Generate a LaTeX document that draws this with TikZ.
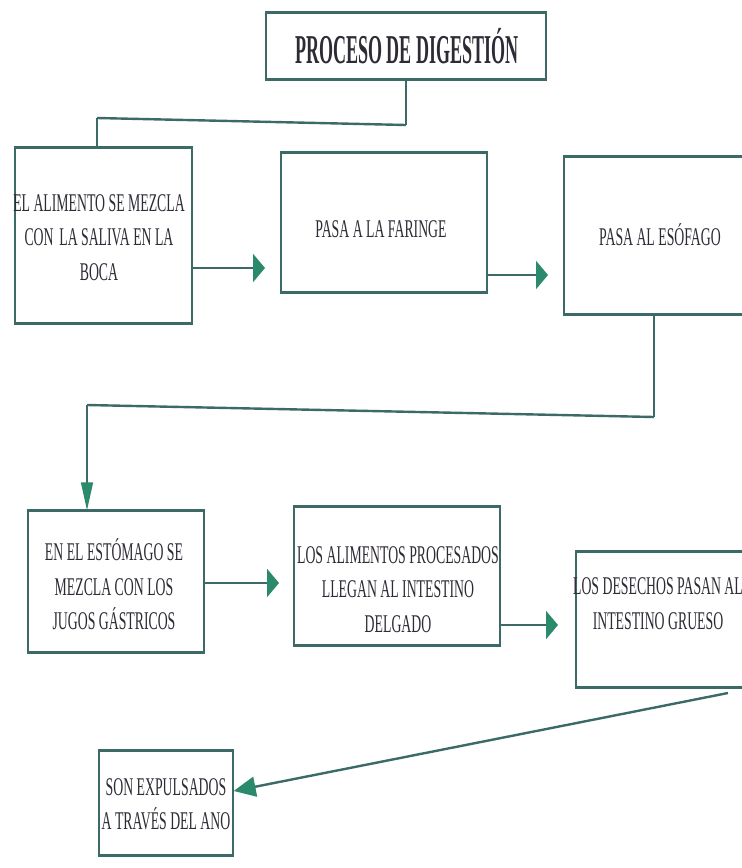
\documentclass[tikz,border=0pt]{standalone}
\usepackage{fontspec}
\setmainfont{Liberation Serif}
\usetikzlibrary{arrows.meta}
\definecolor{boxline}{HTML}{3C6B67}
\definecolor{arrowgreen}{HTML}{2A8A6B}
\definecolor{txtcol}{HTML}{2F2B36}
\newcommand{\bodytext}[1]{\scalebox{0.54}[1]{\fontsize{25.5}{34.5}\selectfont\begin{tabular}{@{}c@{}}#1\end{tabular}}}
\newcommand{\titletext}[1]{\scalebox{0.44}[1]{\fontsize{41}{48}\selectfont\bfseries #1}}
\tikzset{
  stepbox/.style={draw=boxline, line width=1.3pt, fill=white, inner sep=0pt},
  boxedge/.style={draw=boxline, line width=2.6pt},
  lbl/.style={text=txtcol, inner sep=0pt},
  vconn/.style={draw=boxline, line width=1.4pt},
  hconn/.style={draw=boxline, line width=2.4pt},
  harr/.style={draw=boxline, line width=2.6pt, -{Triangle[length=12pt,width=28pt,color=arrowgreen]}},
  varr/.style={draw=boxline, line width=1.4pt, -{Triangle[length=28pt,width=12pt,color=arrowgreen]}},
  darr/.style={draw=boxline, line width=2.4pt, -{Triangle[length=22pt,width=20pt,color=arrowgreen]}},
}
\begin{document}
\begin{tikzpicture}[x=1pt, y=-1pt]
\path[use as bounding box, clip] (0,0) rectangle (742,868);
\fill[white] (0,0) rectangle (742,868);

% boxes
\node[stepbox, minimum width=280pt, minimum height=66pt] (b0) at (406,46) {};
\node[stepbox, minimum width=177pt, minimum height=175pt] (b1) at (103.5,235.5) {};
\node[stepbox, minimum width=206pt, minimum height=139pt] (b2) at (384,222.5) {};
\node[stepbox, minimum width=192pt, minimum height=157pt] (b3) at (660,235.5) {};
\node[stepbox, minimum width=176pt, minimum height=141pt] (b4) at (116,581.5) {};
\node[stepbox, minimum width=206pt, minimum height=138pt] (b5) at (397,576) {};
\node[stepbox, minimum width=172pt, minimum height=135pt] (b6) at (662,619.5) {};
\node[stepbox, minimum width=134pt, minimum height=104pt] (b7) at (166,803) {};
\foreach \b in {b0,b1,b2,b3,b4,b5,b6,b7}
  \draw[boxedge] (\b.north west) -- (\b.north east) (\b.south west) -- (\b.south east);

% texts
\node[lbl] (t0) at (407,46) {\titletext{PROCESO DE DIGESTIÓN}};
\node[lbl] (t1) at (99,239) {\bodytext{EL ALIMENTO SE MEZCLA\\ CON\, LA SALIVA EN LA\\ BOCA}};
\node[lbl] (t2) at (381,231) {\bodytext{PASA A LA FARINGE}};
\node[lbl] (t3) at (660,238.5) {\bodytext{PASA AL ESÓFAGO}};
\node[lbl] (t4) at (114,588.5) {\bodytext{EN EL ESTÓMAGO SE\\ MEZCLA CON LOS\\ JUGOS GÁSTRICOS}};
\node[lbl] (t5) at (398,591) {\bodytext{LOS ALIMENTOS PROCESADOS\\ LLEGAN AL INTESTINO\\ DELGADO}};
\node[lbl] (t6) at (658,605) {\bodytext{LOS DESECHOS PASAN AL\\ INTESTINO GRUESO}};
\node[lbl] (t7) at (166,805.5) {\bodytext{SON EXPULSADOS\\ A TRAVÉS DEL ANO}};

% connector title -> box1
\coordinate (k0a) at (406,125);
\coordinate (k0b) at (97,118);
\draw[vconn] (b0.south) -- (k0a);
\draw[hconn] (k0a) -- (k0b);
\draw[vconn] (k0b) -- (b1.north -| k0b);

% horizontal arrows
\coordinate (a1) at (265,268);
\draw[harr] (b1.east |- a1) -- (a1);
\coordinate (a2) at (548,275);
\draw[harr] (b2.east |- a2) -- (a2);
\coordinate (a4) at (279,583);
\draw[harr] (b4.east |- a4) -- (a4);
\coordinate (a5) at (558,625);
\draw[harr] (b5.east |- a5) -- (a5);

% box3 -> box4
\coordinate (k1) at (654,417);
\coordinate (k2) at (87,405);
\draw[vconn] (b3.south -| k1) -- (k1);
\draw[hconn] (k1) -- (k2);
\draw[varr] (k2) -- (b4.north -| k2);

% box6 -> box7
\coordinate (k3) at (728,693);
\draw[darr] (k3) -- ([yshift=12pt]b7.east);
\end{tikzpicture}
\end{document}
